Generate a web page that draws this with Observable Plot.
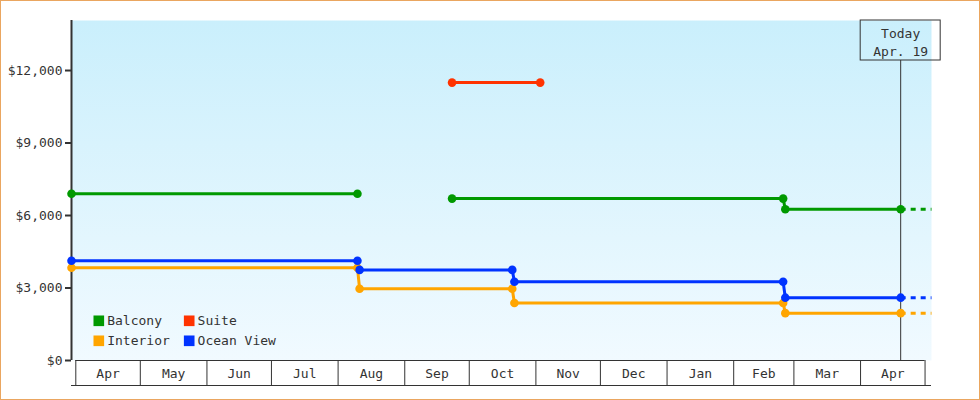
<!DOCTYPE html>
<html>
<head>
<meta charset="utf-8">
<script src="https://cdn.jsdelivr.net/npm/d3@7"></script>
<script src="https://cdn.jsdelivr.net/npm/@observablehq/plot@0.6"></script>
<style>
  html, body { margin: 0; padding: 0; background: #fff; }
  #wrap { position: relative; width: 980px; height: 400px; }
  #border { position: absolute; left: 0; top: 0; width: 980px; height: 400px; box-sizing: border-box; border: 1px solid #eaa660; pointer-events: none; }
</style>
</head>
<body>
<div id="wrap"><div id="chart"></div><div id="border"></div></div>
<script>
// ---- data ----
const seriesNames = ["Balcony", "Suite", "Interior", "Ocean View"];
const seriesColors = ["#009900", "#ff3300", "#ffa500", "#0033ff"];

// each point: date, price, segment (breaks between segments)
const balconyDates  = ["2012-03-30", "2012-08-10", "2012-09-23", "2013-02-24", "2013-02-25", "2013-04-19T16:00"];
const balconyPrices = [6900, 6900, 6700, 6700, 6260, 6260];
const balconySeg    = [0, 0, 1, 1, 1, 1];

const suiteDates  = ["2012-09-23", "2012-11-03"];
const suitePrices = [11500, 11500];
const suiteSeg    = [0, 0];

const interiorDates  = ["2012-03-30", "2012-08-10", "2012-08-11", "2012-10-21", "2012-10-22", "2013-02-24", "2013-02-25", "2013-04-19T16:00"];
const interiorPrices = [3840, 3840, 2970, 2970, 2380, 2380, 1960, 1960];
const interiorSeg    = [0, 0, 0, 0, 0, 0, 0, 0];

const oceanDates  = ["2012-03-30", "2012-08-10", "2012-08-11", "2012-10-21", "2012-10-22", "2013-02-24", "2013-02-25", "2013-04-19T16:00"];
const oceanPrices = [4130, 4130, 3750, 3750, 3260, 3260, 2600, 2600];
const oceanSeg    = [0, 0, 0, 0, 0, 0, 0, 0];

const todayDate = "2013-04-19T16:00";
const todayLabel = "Today\nApr. 19";
const xStartDate = "2012-03-30";
const xEndDate = "2013-05-04";

const monthStarts = ["2012-04-01","2012-05-01","2012-06-01","2012-07-01","2012-08-01","2012-09-01","2012-10-01","2012-11-01","2012-12-01","2013-01-01","2013-02-01","2013-03-01","2013-04-01","2013-05-01"];
const monthLabels = ["Apr","May","Jun","Jul","Aug","Sep","Oct","Nov","Dec","Jan","Feb","Mar","Apr"];

const yTicks = [0, 3000, 6000, 9000, 12000];
const yMax = 14070;

// ---- build tables ----
const toDate = s => new Date(s.length > 10 ? s + "Z" : s);
function rows(name, dates, prices, segs) {
  return dates.map((d, i) => ({series: name, seg: name + segs[i], date: toDate(d), price: prices[i]}));
}
const data = [
  ...rows("Balcony", balconyDates, balconyPrices, balconySeg),
  ...rows("Suite", suiteDates, suitePrices, suiteSeg),
  ...rows("Interior", interiorDates, interiorPrices, interiorSeg),
  ...rows("Ocean View", oceanDates, oceanPrices, oceanSeg)
];
const today = toDate(todayDate);
const xStart = toDate(xStartDate), xEnd = toDate(xEndDate);
// projections beyond today (dashed), for series still on sale today
const proj = [];
for (const name of seriesNames) {
  const pts = data.filter(d => d.series === name);
  const last = pts[pts.length - 1];
  if (+last.date === +today) {
    proj.push({series: name, date: today, price: last.price});
    proj.push({series: name, date: xEnd, price: last.price});
  }
}
const mStarts = monthStarts.map(toDate);
const months = monthLabels.map((m, i) => ({label: m, mid: new Date((+mStarts[i] + +mStarts[i + 1]) / 2)}));
const fmt = d => "$" + d3.format(",")(d);

const ink = "#333";
const fs = 13;

// legend marks: Balcony (c0 r0), Suite (c1 r0), Interior (c0 r1), Ocean View (c1 r1)
const legendMarks = [];
seriesNames.forEach((name, i) => {
  const col = i % 2;
  const row = Math.floor(i / 2);
  const dx = 27.3 + col * 90.4;
  const dy = -39.7 + row * 20;
  legendMarks.push(Plot.dot([name], {frameAnchor: "bottom-left", dx, dy, symbol: "square", r: 6, fill: seriesColors[i], stroke: "none"}));
  legendMarks.push(Plot.text([name], {frameAnchor: "bottom-left", dx: dx + 8.4, dy, text: d => d, textAnchor: "start", lineAnchor: "middle", fill: ink, fontSize: fs}));
});

const chart = Plot.plot({
  width: 980,
  height: 400,
  marginLeft: 71,
  marginRight: 49,
  marginTop: 20,
  marginBottom: 40,
  x: {type: "utc", domain: [xStart, xEnd], axis: null},
  y: {domain: [0, yMax], axis: null},
  color: {domain: seriesNames, range: seriesColors},
  style: {fontFamily: "'DejaVu Sans Mono', monospace", fontSize: "13px", color: ink, background: "transparent"},
  marks: [
    Plot.frame({fill: "url(#bgGrad)", stroke: "none"}),
    // x axis month cells
    Plot.ruleY([0], {x1: mStarts[0], x2: mStarts[mStarts.length - 1], stroke: ink}),
    Plot.ruleX(mStarts, {x: d => d, insetTop: 340, insetBottom: -25, stroke: ink}),
    Plot.ruleY([0], {dy: 25, stroke: ink}),
    Plot.text(months, {x: "mid", y: 0, dy: 13, text: "label", lineAnchor: "middle", fill: ink, fontSize: fs}),
    // y axis
    Plot.ruleX([xStart], {stroke: ink, strokeWidth: 2}),
    Plot.ruleY(yTicks, {x1: xStart, x2: xStart, insetLeft: -6, stroke: ink, strokeWidth: 2}),
    Plot.text(yTicks, {x: xStart, y: d => d, dx: -9, textAnchor: "end", lineAnchor: "middle", text: fmt, fill: ink, fontSize: fs}),
    // today
    Plot.ruleX([today], {x: d => d, insetTop: 40, stroke: ink, strokeWidth: 1}),
    Plot.rect([today], {x1: d => d, x2: d => d, insetLeft: -40, insetRight: -40, insetBottom: 300, fill: "none", stroke: ink, strokeWidth: 1}),
    Plot.text([todayLabel], {x: () => today, frameAnchor: "top", dy: 21, lineAnchor: "middle", lineHeight: 1.385, text: d => d, fill: ink, fontSize: fs}),
    // series
    Plot.line(proj, {x: "date", y: "price", z: "series", stroke: "series", strokeWidth: 3, strokeDasharray: "5,5", strokeLinecap: "butt"}),
    Plot.line(data, {x: "date", y: "price", z: "seg", stroke: "series", strokeWidth: 3, curve: "linear"}),
    Plot.dot(data, {x: "date", y: "price", fill: "series", r: 4.3, stroke: "none"}),
    ...legendMarks
  ]
});

const svg = d3.select(chart);
const grad = svg.insert("defs", ":first-child")
  .append("linearGradient").attr("id", "bgGrad")
  .attr("x1", 0).attr("y1", 0).attr("x2", 0).attr("y2", 1);
grad.append("stop").attr("offset", "0%").attr("stop-color", "#caeffc");
grad.append("stop").attr("offset", "100%").attr("stop-color", "#f1faff");

document.getElementById("chart").append(chart);
</script>
</body>
</html>
